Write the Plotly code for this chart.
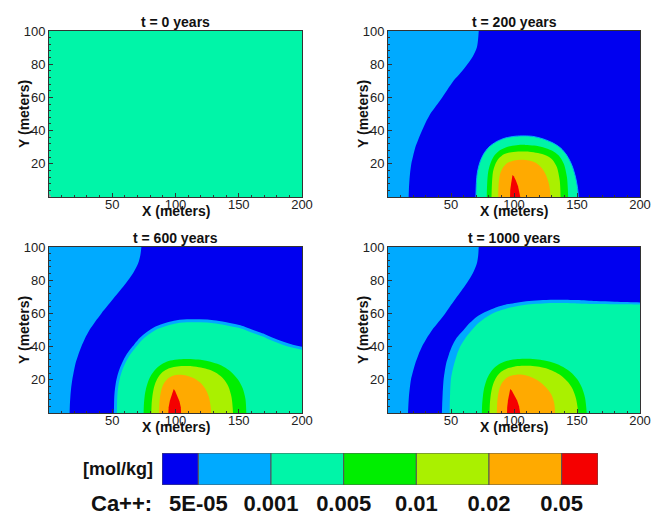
import plotly.graph_objects as go

W, H = 652, 516

TIMES = [0, 200, 600, 1000]
LEVEL_LABELS = ["5E-05", "0.001", "0.005", "0.01", "0.02", "0.05"]
BAND_COLORS = ["#0000f0", "#00aaff", "#00f5a8", "#00ee00", "#aaf000", "#ffaa00", "#f50000"]
BAND_BLUE, BAND_LBLUE, BAND_CYAN, BAND_GREEN, BAND_YELLOW, BAND_ORANGE, BAND_RED = range(7)
# colour-bar cell edges; the open-ended first/last bins are half width
BAR_EDGES = [0, 0.5, 1.5, 2.5, 3.5, 4.5, 5.5, 6]

X_EXTENT = [0, 200]
Y_EXTENT = [0, 100]

# light-blue / blue interface on the west side: x position at heights WEST_Y
WEST_Y = [105, 100, 95, 90, 85, 80, 75, 70, 65, 60, 55, 50, 45, 40, 35, 30, 25, 20, 15, 10, 5, 0, -5]
WEST_X_200 = [72.3, 72, 71.5, 70.5, 67.5, 63, 57.8, 52, 47.5, 43, 38.2, 33.5, 30, 27, 24.2, 21.7, 20, 18.5, 17.6, 17, 16.6, 16.4, 16.3]
WEST_X_600 = [73.3, 73, 72.2, 70.4, 67, 62.5, 57.4, 52, 46.7, 41.4, 36.5, 32, 28.5, 25.6, 23.1, 21, 19.6, 18.4, 17.5, 16.9, 16.5, 16.3, 16.2]
WEST_X_1000 = [72.3, 72, 71.6, 70.5, 67.8, 64, 59.5, 54.7, 50, 45.4, 40.2, 35, 30.7, 27, 24.1, 21.7, 19.8, 18.2, 17.3, 16.6, 16.2, 15.9, 15.8]

# ---- t = 200 years: nested zones around the source near x = 100 ----
P200_CYAN_X = [69.8, 70.1, 71, 73, 76, 80, 86, 93, 101, 108, 115, 123, 131, 137, 142, 146, 148.8, 150.5, 151]
P200_CYAN_Y = [0, 8, 15, 21, 26, 30, 33.3, 35.5, 36.6, 36.8, 36.5, 35, 32.5, 29.5, 25, 19, 12, 5, 0]
P200_GREEN_X = [78.4, 78.7, 79.5, 81.2, 84, 88.5, 95, 102, 109, 116, 123, 130, 135.5, 139.5, 142, 143]
P200_GREEN_Y = [0, 8, 15, 20, 24.5, 28, 30.3, 31.2, 31.4, 31, 30, 28, 25, 20, 12, 0]
P200_YELLOW_X = [82.2, 82.5, 83.3, 85, 88, 92, 98, 105, 112, 119, 125.5, 130.5, 134, 136.3, 137]
P200_YELLOW_Y = [0, 8, 15, 19.5, 23.3, 25.8, 27, 27.4, 27.3, 26.5, 25, 22.5, 18, 10, 0]
P200_ORANGE_X = [87.5, 87.8, 89, 91.5, 95, 100, 106, 112, 117.5, 122, 125.5, 128, 129]
P200_ORANGE_Y = [0, 8, 14, 18, 20.6, 22, 22.5, 22, 20.5, 17.5, 13, 7, 0]
P200_RED_X = [96.7, 97, 97.7, 98.4, 98.8, 99.8, 101.5, 103.2, 104.4, 105]
P200_RED_Y = [0, 4, 8, 11.5, 13.3, 12.5, 10, 6.5, 3, 0]

# ---- t = 600 years ----
P600_CYAN_X = [52.5, 52.6, 52.8, 53.4, 54.5, 56.3, 59, 62.5, 67.5, 72.5, 78, 84, 91, 99, 109, 119, 130,
               140, 151, 160, 169, 177, 185, 192.5, 200, 215]
P600_CYAN_Y = [0, 5, 10, 15, 20, 25, 30, 35, 40, 44.5, 48, 51, 53, 54.7, 55.5, 55.5, 55,
               53.8, 52, 49.5, 47, 44.3, 42, 40.3, 39, 37]
P600_GREEN_X = [74.8, 75, 75.6, 76.8, 78.6, 81.3, 85, 90, 96, 103, 110, 118, 126, 133, 139.5, 145, 149.5, 153, 155.3, 156]
P600_GREEN_Y = [0, 5, 10, 15, 19.5, 23.5, 27, 29.8, 31.6, 32.4, 32.6, 32.2, 31.2, 29.6, 27.2, 24, 20, 15, 8.5, 0]
P600_YELLOW_X = [80.9, 81.1, 81.7, 82.7, 84.3, 86.7, 90, 94.5, 100, 106, 113, 120, 127, 133, 138, 141.8, 144.3, 145.5]
P600_YELLOW_Y = [0, 5, 10, 14.5, 18.5, 22, 24.8, 26.8, 27.9, 28.3, 28.2, 27.4, 26, 23.8, 20.5, 16, 9.5, 0]
P600_ORANGE_X = [87, 87.2, 87.8, 89, 91, 94, 98, 103, 109, 115, 120, 124, 126.8, 128.3]
P600_ORANGE_Y = [0, 5, 10, 14.5, 18, 20.8, 22.5, 23, 22.5, 20.8, 18, 14, 8.5, 0]
P600_RED_X = [94.1, 94.6, 95.6, 96.9, 98.1, 98.6, 99.7, 101.5, 103.2, 104.2, 104.6]
P600_RED_Y = [0, 3.5, 7.5, 11, 13.6, 14.4, 13.3, 10.5, 7, 3.5, 0]

# ---- t = 1000 years ----
P1000_LBLUE_X = [42.8, 43, 43.4, 44.1, 45, 46.2, 48.2, 50.7, 54.5, 60, 65, 70.5, 77, 83.7, 92, 102, 112,
                 123, 135, 150, 165, 180, 200, 215]
P1000_LBLUE_Y = [0, 5, 12, 20, 25, 30, 35, 40, 45.3, 50, 54.3, 58, 60.8, 63, 65, 66.4, 67.4,
                 68, 68.2, 68, 67.4, 67, 66.6, 66.4]
P1000_CYAN_X = [48.9, 49, 49.3, 49.9, 51, 52.6, 54.6, 57.3, 61.5, 66.6, 72, 78.5, 86, 94.3, 103, 113,
                123, 135, 150, 165, 180, 200, 215]
P1000_CYAN_Y = [0, 5, 12, 20, 25, 30, 35, 40, 45.2, 50, 54.3, 58, 61, 63, 64.5, 65.5,
                66, 66.2, 66, 65.6, 65.5, 65.4, 65.3]
P1000_GREEN_X = [74.5, 74.7, 75.3, 76.3, 78, 80.5, 84, 89, 95.5, 103, 111, 119, 127, 134, 140.5, 146,
                 150.5, 154, 156.4, 157.7]
P1000_GREEN_Y = [0, 5, 10, 15, 19.5, 23.5, 27, 29.8, 31.6, 32.5, 32.7, 32.3, 31.2, 29.5, 27, 24,
                 20, 15, 9, 0]
P1000_YELLOW_X = [80.6, 80.8, 81.4, 82.4, 84, 86.4, 89.8, 94.5, 100, 106, 113, 120, 127, 133, 138.5,
                  143, 146.5, 149.3, 151]
P1000_YELLOW_Y = [0, 5, 10, 14.5, 18.5, 22, 24.8, 26.8, 27.9, 28.4, 28.4, 27.8, 26.5, 24.5, 21.8,
                  18.5, 14.5, 8.5, 0]
P1000_ORANGE_X = [86.4, 86.6, 87.2, 88.4, 90.4, 93.5, 97.5, 102, 107, 112.5, 118, 123, 127, 130, 132, 132.6]
P1000_ORANGE_Y = [0, 5, 10, 14.5, 18, 20.8, 22.5, 23.1, 23, 22, 20, 17.2, 14, 10.5, 5.5, 0]
P1000_RED_X = [94.3, 94.6, 95.2, 96, 96.6, 97, 98.2, 100.2, 102.5, 104, 104.7, 104.9]
P1000_RED_Y = [0, 3.5, 7.5, 11, 13.5, 14.4, 13.5, 11, 7.5, 4, 1.5, 0]

# panel plot areas in pixels: left, right, top, bottom
PANEL_PX = [(49, 302, 31, 197), (388, 640, 31, 197), (49, 302, 247, 413), (388, 640, 247, 413)]
BAR_PX = (162, 598, 453, 485)

FONT = "Arial, Liberation Sans, sans-serif"


def fx(p):
    return p / W


def fy(p):
    return 1 - p / H


fig = go.Figure()


def add_zone(panel, xs, ys, band, shape="spline", outline=None, outline_w=0, extend=True):
    ax = "" if panel == 1 else str(panel)
    xs, ys = list(xs), list(ys)
    if extend:
        # carry both ends straight down past the bottom axis so the fill closes off-plot
        xs = [xs[0]] + xs + [xs[-1]]
        ys = [-3] + ys + [-3]
    fig.add_trace(go.Scatter(
        x=xs, y=ys, mode="lines", fill="toself",
        fillcolor=BAND_COLORS[band],
        line=dict(color=outline or BAND_COLORS[band], width=outline_w, shape=shape, smoothing=0.8),
        xaxis="x" + ax, yaxis="y" + ax, hoverinfo="skip", showlegend=False,
    ))


def add_base(panel, band):
    pad = 20
    xs = [X_EXTENT[0] - pad, X_EXTENT[1] + pad, X_EXTENT[1] + pad, X_EXTENT[0] - pad]
    ys = [Y_EXTENT[0] - pad, Y_EXTENT[0] - pad, Y_EXTENT[1] + pad, Y_EXTENT[1] + pad]
    add_zone(panel, xs, ys, band, shape="linear", extend=False)


def add_west(panel, wx):
    xs = list(wx) + [-40, -40]
    ys = list(WEST_Y) + [-5, 105]
    add_zone(panel, xs, ys, BAND_LBLUE, extend=False)


# t = 0: uniform initial concentration
add_base(1, BAND_CYAN)

# t = 200 years
add_base(2, BAND_BLUE)
add_west(2, WEST_X_200)
add_zone(2, P200_CYAN_X, P200_CYAN_Y, BAND_CYAN, outline=BAND_COLORS[BAND_LBLUE], outline_w=1)
add_zone(2, P200_GREEN_X, P200_GREEN_Y, BAND_GREEN)
add_zone(2, P200_YELLOW_X, P200_YELLOW_Y, BAND_YELLOW)
add_zone(2, P200_ORANGE_X, P200_ORANGE_Y, BAND_ORANGE)
add_zone(2, P200_RED_X, P200_RED_Y, BAND_RED, shape="linear")

# t = 600 years
add_base(3, BAND_BLUE)
add_west(3, WEST_X_600)
add_zone(3, P600_CYAN_X, P600_CYAN_Y, BAND_CYAN, outline=BAND_COLORS[BAND_LBLUE], outline_w=3)
add_zone(3, P600_GREEN_X, P600_GREEN_Y, BAND_GREEN)
add_zone(3, P600_YELLOW_X, P600_YELLOW_Y, BAND_YELLOW)
add_zone(3, P600_ORANGE_X, P600_ORANGE_Y, BAND_ORANGE)
add_zone(3, P600_RED_X, P600_RED_Y, BAND_RED, shape="linear")

# t = 1000 years
add_base(4, BAND_BLUE)
add_west(4, WEST_X_1000)
add_zone(4, P1000_LBLUE_X, P1000_LBLUE_Y, BAND_LBLUE)
add_zone(4, P1000_CYAN_X, P1000_CYAN_Y, BAND_CYAN)
add_zone(4, P1000_GREEN_X, P1000_GREEN_Y, BAND_GREEN)
add_zone(4, P1000_YELLOW_X, P1000_YELLOW_Y, BAND_YELLOW)
add_zone(4, P1000_ORANGE_X, P1000_ORANGE_Y, BAND_ORANGE)
add_zone(4, P1000_RED_X, P1000_RED_Y, BAND_RED, shape="linear")

# colour bar legend
mids = [(BAR_EDGES[i] + BAR_EDGES[i + 1]) / 2 for i in range(len(BAR_EDGES) - 1)]
widths = [BAR_EDGES[i + 1] - BAR_EDGES[i] for i in range(len(BAR_EDGES) - 1)]
fig.add_trace(go.Bar(
    x=mids, y=[1] * len(mids), width=widths, base=0,
    marker=dict(color=BAND_COLORS, line=dict(color="#555555", width=1)),
    xaxis="x5", yaxis="y5", hoverinfo="skip", showlegend=False,
))

layout = dict(
    width=W, height=H, margin=dict(l=0, r=0, t=0, b=0, autoexpand=False),
    paper_bgcolor="white", plot_bgcolor="white", showlegend=False,
    font=dict(family=FONT, color="#111111"),
)

annotations = []
for i, (l, r, t, b) in enumerate(PANEL_PX, start=1):
    ax = "" if i == 1 else str(i)
    layout["xaxis" + ax] = dict(
        domain=[fx(l), fx(r)], range=X_EXTENT, anchor="y" + ax, automargin=False,
        tickmode="array", tickvals=[50, 100, 150, 200],
        ticks="inside", ticklen=4, tickcolor="#333333", ticklabelstandoff=-5,
        minor=dict(ticks="inside", ticklen=2, tickmode="linear", tick0=0, dtick=10, tickcolor="#333333"),
        showline=True, mirror=True, linecolor="#333333", linewidth=1,
        showgrid=False, zeroline=False, fixedrange=True,
        tickfont=dict(size=13, color="#222222"),
    )
    layout["yaxis" + ax] = dict(
        domain=[fy(b), fy(t)], range=Y_EXTENT, anchor="x" + ax, automargin=False,
        tickmode="array", tickvals=[20, 40, 60, 80, 100],
        ticks="inside", ticklen=4, tickcolor="#333333",
        minor=dict(ticks="inside", ticklen=2, tickmode="linear", tick0=0, dtick=4, tickcolor="#333333"),
        showline=True, mirror=True, linecolor="#333333", linewidth=1,
        showgrid=False, zeroline=False, fixedrange=True,
        tickfont=dict(size=13, color="#222222"),
    )
    cx = (l + r) / 2
    annotations.append(dict(
        text=f"<b>t = {TIMES[i - 1]} years</b>", x=fx(cx), y=fy(t - 9),
        xref="paper", yref="paper", showarrow=False, xanchor="center", yanchor="middle",
        font=dict(size=14, color="#111111"),
    ))
    annotations.append(dict(
        text="<b>X (meters)</b>", x=fx(cx), y=fy(b + 14),
        xref="paper", yref="paper", showarrow=False, xanchor="center", yanchor="middle",
        font=dict(size=14, color="#111111"),
    ))
    annotations.append(dict(
        text="<b>Y (meters)</b>", x=fx(l - 25), y=fy((t + b) / 2), textangle=-90,
        xref="paper", yref="paper", showarrow=False, xanchor="center", yanchor="middle",
        font=dict(size=14, color="#111111"),
    ))

bl, br, bt, bb = BAR_PX
layout["xaxis5"] = dict(
    domain=[fx(bl), fx(br)], range=[BAR_EDGES[0], BAR_EDGES[-1]], anchor="y5", automargin=False,
    tickmode="array", tickvals=BAR_EDGES[1:-1],
    ticktext=[f"<b>{s}</b>" for s in LEVEL_LABELS],
    ticks="", ticklabelstandoff=3, showline=False, showgrid=False, zeroline=False, fixedrange=True,
    tickfont=dict(size=22, color="#111111"),
)
layout["yaxis5"] = dict(domain=[fy(bb), fy(bt)], range=[0, 1], anchor="x5", automargin=False,
                        visible=False, fixedrange=True)

annotations.append(dict(
    text="<b>[mol/kg]</b>", x=fx(155), y=fy(469), xref="paper", yref="paper",
    showarrow=False, xanchor="right", yanchor="middle", font=dict(size=18, color="#111111"),
))
annotations.append(dict(
    text="<b>Ca++:</b>", x=fx(154), y=fy(503), xref="paper", yref="paper",
    showarrow=False, xanchor="right", yanchor="middle", font=dict(size=22, color="#111111"),
))
layout["annotations"] = annotations

# panel frames and legend box
dark, light = "#8c8c8c", "#c8c8c8"
shapes = [
    dict(type="line", x0=fx(5), x1=fx(5), y0=fy(4), y1=fy(219), line=dict(color=dark, width=1.5)),
    dict(type="line", x0=fx(5), x1=fx(652), y0=fy(4), y1=fy(4), line=dict(color=dark, width=1.5)),
    dict(type="line", x0=fx(343), x1=fx(343), y0=fy(4), y1=fy(219), line=dict(color=dark, width=1.5)),
    dict(type="line", x0=fx(5), x1=fx(343), y0=fy(219), y1=fy(219), line=dict(color=dark, width=1.5)),
    dict(type="line", x0=fx(343), x1=fx(652), y0=fy(221), y1=fy(221), line=dict(color=light, width=1.5)),
    dict(type="line", x0=fx(343), x1=fx(343), y0=fy(219), y1=fy(437), line=dict(color=light, width=1.5)),
    dict(type="line", x0=fx(5), x1=fx(5), y0=fy(219), y1=fy(516), line=dict(color=light, width=1.5)),
    dict(type="line", x0=fx(5), x1=fx(652), y0=fy(437), y1=fy(437), line=dict(color=light, width=1.5)),
    dict(type="rect", x0=fx(59), x1=fx(622), y0=fy(448), y1=fy(530),
         line=dict(color="#9a9a9a", width=1), fillcolor="rgba(0,0,0,0)"),
]
layout["shapes"] = shapes

fig.update_layout(**layout)
fig.write_html("out.html")
